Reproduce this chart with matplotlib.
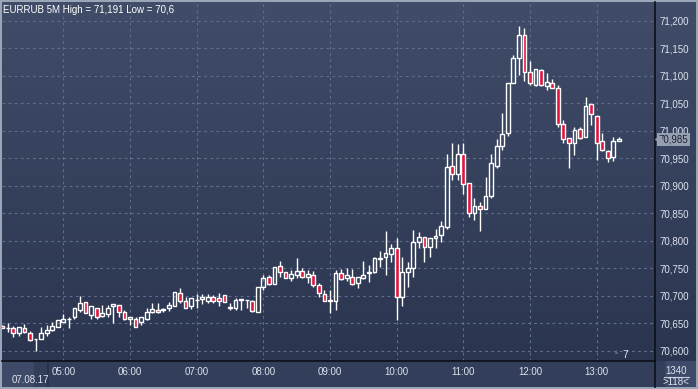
import numpy as np
import matplotlib
matplotlib.use("Agg")
import matplotlib.pyplot as plt
from matplotlib.colors import LinearSegmentedColormap
from matplotlib.transforms import blended_transform_factory

# EURRUB 5M candles, 07.08.17 (first candle 04:05)
opens = [70.646, 70.641, 70.641, 70.632, 70.641, 70.632, 70.621, 70.622, 70.632, 70.639,
         70.643, 70.653, 70.658, 70.661, 70.675, 70.689, 70.665, 70.679, 70.664, 70.667,
         70.681, 70.684, 70.671, 70.658, 70.659, 70.653, 70.659, 70.670, 70.674, 70.675,
         70.678, 70.681, 70.705, 70.691, 70.681, 70.692, 70.694, 70.690, 70.698, 70.696,
         70.701, 70.679, 70.679, 70.693, 70.692, 70.691, 70.671, 70.717, 70.734, 70.721,
         70.755, 70.743, 70.732, 70.739, 70.746, 70.734, 70.739, 70.720, 70.703, 70.691,
         70.691, 70.741, 70.732, 70.735, 70.723, 70.732, 70.742, 70.743, 70.768, 70.770,
         70.776, 70.787, 70.699, 70.743, 70.751, 70.798, 70.808, 70.789, 70.805, 70.810,
         70.826, 70.936, 70.921, 70.959, 70.905, 70.850, 70.864, 70.859, 70.881, 70.937,
         70.973, 70.996, 71.088, 71.132, 71.175, 71.108, 71.084, 71.110, 71.082, 71.087,
         71.078, 71.012, 70.987, 70.979, 71.003, 70.989, 71.049, 71.028, 70.981, 70.964,
         70.952, 70.981]
highs = [70.647, 70.650, 70.645, 70.643, 70.649, 70.636, 70.622, 70.644, 70.647, 70.652,
         70.656, 70.667, 70.662, 70.679, 70.700, 70.689, 70.682, 70.679, 70.684, 70.684,
         70.685, 70.684, 70.675, 70.662, 70.662, 70.662, 70.679, 70.687, 70.688, 70.679,
         70.689, 70.707, 70.714, 70.699, 70.697, 70.703, 70.703, 70.703, 70.701, 70.705,
         70.701, 70.688, 70.696, 70.694, 70.693, 70.693, 70.716, 70.738, 70.738, 70.752,
         70.764, 70.743, 70.747, 70.769, 70.750, 70.747, 70.745, 70.723, 70.711, 70.710,
         70.747, 70.749, 70.750, 70.749, 70.734, 70.764, 70.756, 70.771, 70.781, 70.818,
         70.795, 70.805, 70.771, 70.762, 70.820, 70.817, 70.808, 70.805, 70.821, 70.836,
         70.959, 70.979, 70.976, 70.978, 70.905, 70.878, 70.871, 70.917, 70.959, 70.985,
         71.032, 71.088, 71.138, 71.191, 71.187, 71.127, 71.112, 71.112, 71.105, 71.094,
         71.084, 71.020, 70.987, 71.008, 71.008, 71.062, 71.049, 71.028, 70.996, 70.965,
         70.989, 70.989]
lows = [70.641, 70.635, 70.626, 70.627, 70.632, 70.619, 70.600, 70.621, 70.627, 70.636,
        70.643, 70.652, 70.641, 70.659, 70.671, 70.669, 70.659, 70.659, 70.662, 70.662,
        70.650, 70.662, 70.656, 70.647, 70.643, 70.647, 70.656, 70.669, 70.669, 70.670,
        70.673, 70.681, 70.688, 70.678, 70.676, 70.679, 70.685, 70.687, 70.688, 70.681,
        70.689, 70.675, 70.675, 70.675, 70.678, 70.670, 70.671, 70.711, 70.720, 70.721,
        70.735, 70.732, 70.728, 70.732, 70.732, 70.724, 70.717, 70.699, 70.690, 70.669,
        70.675, 70.729, 70.728, 70.720, 70.714, 70.730, 70.726, 70.741, 70.753, 70.738,
        70.762, 70.656, 70.682, 70.717, 70.734, 70.787, 70.762, 70.771, 70.787, 70.799,
        70.821, 70.911, 70.911, 70.885, 70.844, 70.838, 70.819, 70.858, 70.879, 70.932,
        70.965, 70.990, 71.087, 71.102, 71.090, 71.084, 71.082, 71.082, 71.075, 71.078,
        71.008, 70.979, 70.932, 70.956, 70.985, 70.989, 71.011, 70.947, 70.964, 70.944,
        70.946, 70.981]
closes = [70.642, 70.642, 70.633, 70.643, 70.634, 70.620, 70.622, 70.633, 70.638, 70.645,
          70.656, 70.659, 70.659, 70.678, 70.687, 70.669, 70.682, 70.662, 70.669, 70.679,
          70.685, 70.671, 70.659, 70.661, 70.644, 70.661, 70.670, 70.676, 70.670, 70.676,
          70.684, 70.707, 70.691, 70.679, 70.697, 70.693, 70.699, 70.699, 70.690, 70.690,
          70.689, 70.680, 70.693, 70.694, 70.693, 70.673, 70.716, 70.732, 70.721, 70.752,
          70.744, 70.732, 70.740, 70.745, 70.734, 70.740, 70.720, 70.705, 70.691, 70.692,
          70.741, 70.730, 70.738, 70.721, 70.734, 70.739, 70.744, 70.769, 70.769, 70.778,
          70.787, 70.698, 70.743, 70.750, 70.798, 70.808, 70.789, 70.805, 70.809, 70.827,
          70.934, 70.921, 70.958, 70.903, 70.850, 70.864, 70.859, 70.882, 70.941, 70.973,
          70.994, 71.087, 71.132, 71.175, 71.107, 71.087, 71.112, 71.084, 71.089, 71.079,
          71.012, 70.985, 70.979, 71.002, 70.987, 71.045, 71.030, 70.979, 70.965, 70.950,
          70.981, 70.985]

hour_idx = [11, 23, 35, 47, 59, 71, 83, 95, 107]
hour_labels = ["05:00", "06:00", "07:00", "08:00", "09:00", "10:00", "11:00", "12:00", "13:00"]
price_ticks = [70.60, 70.65, 70.70, 70.75, 70.80, 70.85, 70.90, 70.95, 71.00, 71.05, 71.10, 71.15, 71.20]

W, H = 698, 389
plt.rcParams['font.family'] = ['Liberation Sans', 'DejaVu Sans']
fig = plt.figure(figsize=(W / 100, H / 100), dpi=100)
fig.patch.set_facecolor('#9aa6b8')

def px(x0, y0, x1, y1):
    return [x0 / W, 1 - y1 / H, (x1 - x0) / W, (y1 - y0) / H]

# bottom time panel and right price panel backgrounds
bot = fig.add_axes(px(2, 361, 696, 387))
bot.set_facecolor('#3e4b68')
bot.set_xticks([]); bot.set_yticks([])
for s in bot.spines.values():
    s.set_visible(False)
bot.axvspan(0.855, 0.94, color='#333f5a')
bot.axvline(0.857, color='#27304a', lw=1.2)

grad = LinearSegmentedColormap.from_list('bg', ['#404c68', '#2b3550'])
side = fig.add_axes(px(655, 2, 696, 361))
side.imshow(np.linspace(0, 1, 100).reshape(-1, 1), cmap=grad, aspect='auto',
            extent=[0, 1, 0, 1])
side.set_xticks([]); side.set_yticks([])
for s in side.spines.values():
    s.set_visible(False)

ax = fig.add_axes(px(2, 2, 655, 361))
ax.set_zorder(3)
ax.patch.set_alpha(0)
x = np.arange(len(opens))
ax.set_xlim(-0.035, 117.5)
ax.set_ylim(70.5818, 71.2345)
main_bg = fig.add_axes(px(2, 2, 655, 361), zorder=1)
main_bg.imshow(np.linspace(0, 1, 100).reshape(-1, 1), cmap=grad, aspect='auto',
               extent=[0, 1, 0, 1])
main_bg.axis('off')

ax.grid(True, color='#5f6e8c', linestyle=(0, (2.5, 3)), linewidth=0.8)
ax.set_axisbelow(True)

o = np.array(opens); c = np.array(closes); h = np.array(highs); l = np.array(lows)
top = np.maximum(o, c); btm = np.minimum(o, c)
up = c >= o
ax.vlines(x, top, h, color='white', lw=1.0, zorder=3)
ax.vlines(x, l, btm, color='white', lw=1.0, zorder=3)
hgt = np.maximum(top - btm, 0.0008)
ax.bar(x[up], hgt[up], bottom=btm[up], width=0.68, facecolor='none',
       edgecolor='white', linewidth=1.0, zorder=4)
ax.bar(x[~up], hgt[~up], bottom=btm[~up], width=0.68, facecolor='#e0143c',
       edgecolor='white', linewidth=1.0, zorder=4)

ax.set_xticks(hour_idx)
ax.set_xticklabels(hour_labels)
ax.set_yticks(price_ticks)
ax.set_yticklabels([f"{v:.3f}".replace('.', ',') for v in price_ticks])
ax.yaxis.tick_right()
ax.tick_params(axis='both', length=0, colors='#dde3ee', labelsize=7)
ax.tick_params(axis='x', pad=4)
ax.tick_params(axis='y', pad=3)
for s in ['top', 'left']:
    ax.spines[s].set_visible(False)
ax.spines['right'].set_color('#0c0f18')
ax.spines['bottom'].set_color('#0c0f18')
ax.spines['right'].set_linewidth(1.2)
ax.spines['bottom'].set_linewidth(1.2)

# current price tag
tr = blended_transform_factory(ax.transAxes, ax.transData)
ax.text(1.006, closes[-1], f"{closes[-1]:.3f}".replace('.', ','), transform=tr,
        fontsize=7, color='#1c2233', va='center', ha='left', zorder=6, clip_on=False,
        bbox=dict(boxstyle='square,pad=0.15', fc='#959fb0', ec='none'))
ax.plot([1.004], [closes[-1]], marker='<', ms=5, color='#959fb0', transform=tr,
        clip_on=False, zorder=6)

ax.text(0.002, 0.993, "EURRUB 5M High = 71,191 Low = 70,6", transform=ax.transAxes,
        color='white', fontsize=7, va='top', ha='left')
fig.text(12 / W, 1 - 380 / H, "07.08.17", color='#dde3ee', fontsize=7, va='center')
fig.text(622 / W, 1 - 355 / H, "7", color='#dde3ee', fontsize=7.5, va='center', zorder=10)
fig.text(613 / W, 1 - 353 / H, "\u25b2", color='#56627c', fontsize=5, va='center', zorder=10)
fig.text(676 / W, 1 - 371 / H, "1340", color='#dde3ee', fontsize=7, va='center', ha='center')
fig.text(676 / W, 1 - 382 / H, ">118<", color='#dde3ee', fontsize=7, va='center', ha='center')
fig.add_artist(plt.Line2D([664 / W, 689 / W], [1 - 376.5 / H, 1 - 376.5 / H], color='#c8cfdc', lw=0.8))
fig.add_artist(plt.Line2D([655 / W, 655 / W], [1 - 387 / H, 1 - 361 / H], color='#0c0f18', lw=1.2))

fig.savefig("out.png", dpi=100, facecolor=fig.get_facecolor())
